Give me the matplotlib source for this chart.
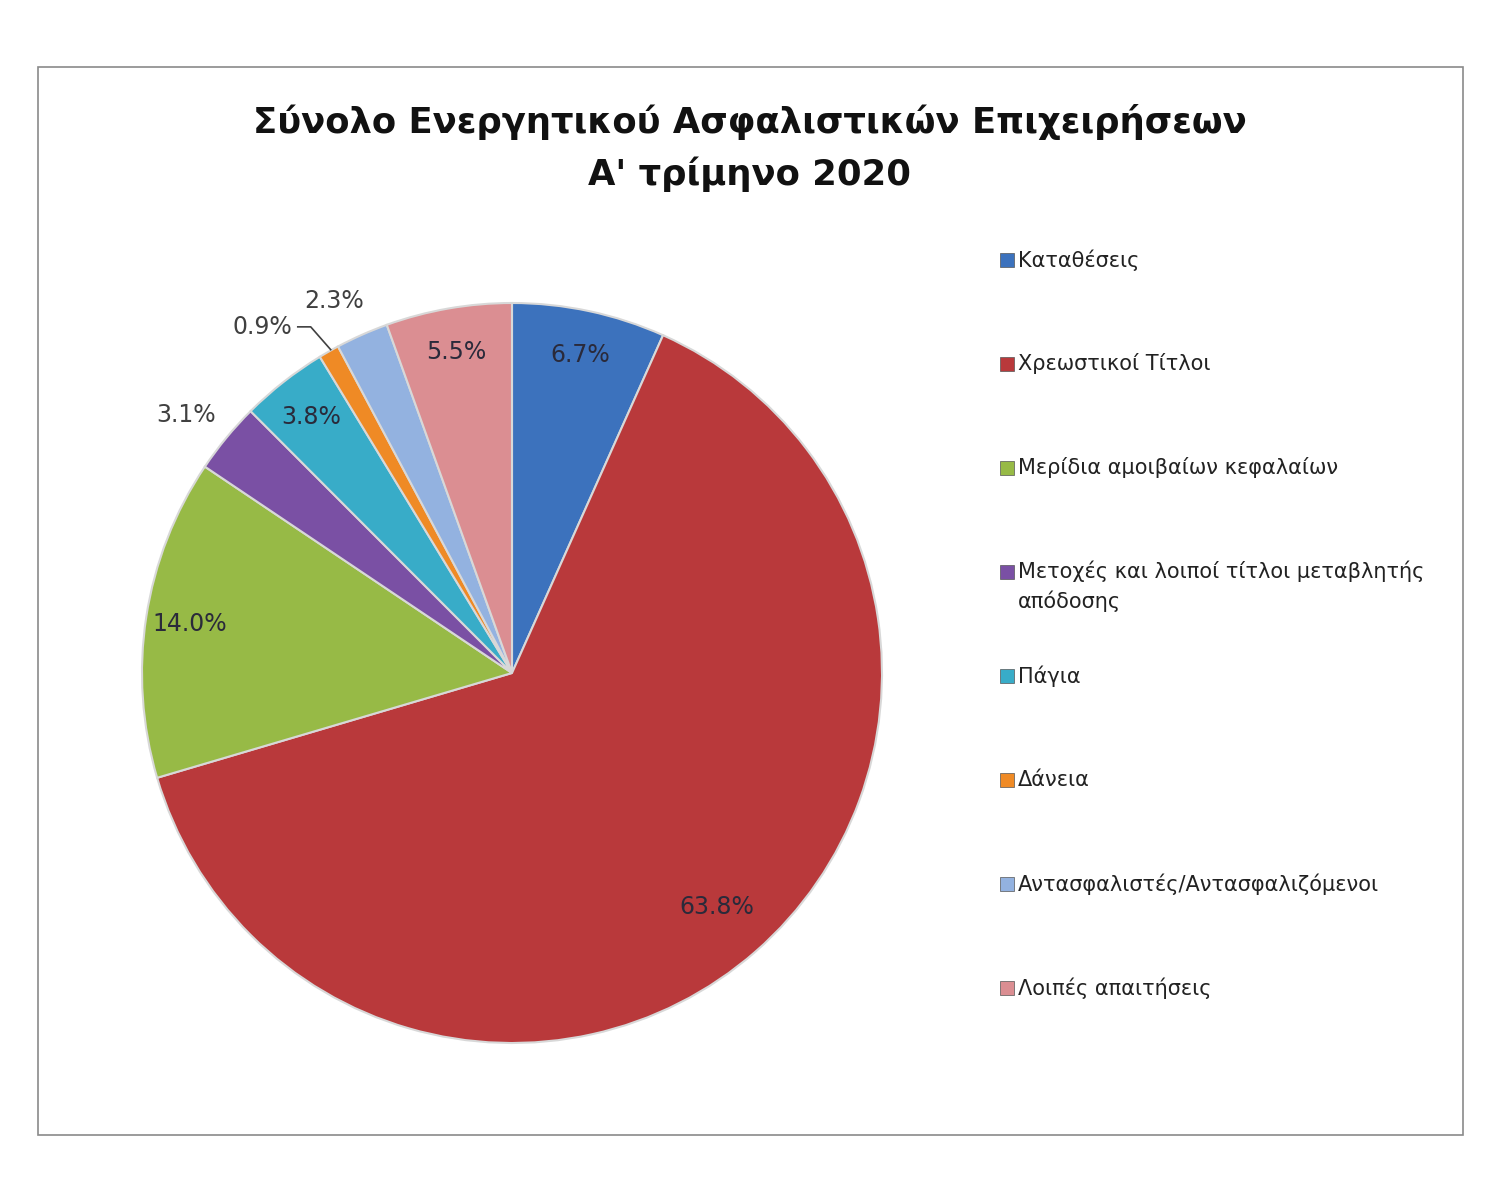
import numpy as np
import matplotlib.pyplot as plt
from matplotlib.patches import Rectangle

title = "Σύνολο Ενεργητικού Ασφαλιστικών Επιχειρήσεων\nΑ' τρίμηνο 2020"
categories = ["Καταθέσεις", "Χρεωστικοί Τίτλοι", "Μερίδια αμοιβαίων κεφαλαίων",
              "Μετοχές και λοιποί τίτλοι μεταβλητής\nαπόδοσης", "Πάγια", "Δάνεια",
              "Αντασφαλιστές/Αντασφαλιζόμενοι", "Λοιπές απαιτήσεις"]
shares = [6.7, 63.8, 14.0, 3.1, 3.8, 0.9, 2.3, 5.5]
colors = ["#3C72BD", "#B9393B", "#97BA46", "#7A50A4", "#38ACC8", "#EF8A25",
          "#93B2E0", "#DB8E92"]

#+++++ layout
W, H = 1500, 1200
cx, cy, R = 512, 673, 370
fig = plt.figure(figsize=(15, 12), dpi=100)
fig.patch.set_facecolor("white")
fig.add_artist(Rectangle((38 / W, 1 - 1135 / H), (1463 - 38) / W, (1135 - 67) / H,
                         transform=fig.transFigure, fill=False, ec="#8a8a8a", lw=1.2))
ax = fig.add_axes([(cx - R) / W, (H - cy - R) / H, 2 * R / W, 2 * R / H])
#-----

wedges, _ = ax.pie(shares, colors=colors, startangle=90, counterclock=False, radius=1,
                   wedgeprops=dict(ec="#d8d8d8", lw=1.5))
ax.set_xlim(-1, 1)
ax.set_ylim(-1, 1)
ax.set_aspect("equal")
ax.axis("off")

# percentage labels: small slices go outside (radius, angle shift in deg)
outside = {3: (1.125, 1.1), 5: (1.153, 6.1), 6: (1.115, 1.7)}
for i, (w, v) in enumerate(zip(wedges, shares)):
    ang = np.deg2rad((w.theta1 + w.theta2) / 2)
    if i in outside:
        r, dang = outside[i]
        a = ang + np.deg2rad(dang)
        x, y = r * np.cos(a), r * np.sin(a)
        ax.text(x, y, f"{v:.1f}%", ha="center", va="center", fontsize=17, color="#404040")
        if i == 5:
            px, py = np.cos(ang), np.sin(ang)
            ax.plot([x + 0.095, x + 0.13, px + 0.005], [y, y, py + 0.005],
                    color="#404040", lw=1.2, clip_on=False)
    else:
        r = 0.88 if i != 1 else 0.84
        ax.text(r * np.cos(ang), r * np.sin(ang), f"{v:.1f}%", ha="center", va="center",
                fontsize=17, color="#2a2a3a")

fig.text(750 / W, 1 - 148 / H, title, ha="center", va="center", fontsize=25.5,
         fontweight="bold", color="#111111", linespacing=1.6)

# legend
for i, (lab, c) in enumerate(zip(categories, colors)):
    y = 260 + 104 * i
    fig.add_artist(Rectangle((1000 / W, 1 - (y + 7) / H), 14 / W, 14 / H,
                             transform=fig.transFigure, fc=c, ec="#555555", lw=0.5))
    if "\n" in lab:
        fig.text(1018 / W, 1 - (y - 12) / H, lab, ha="left", va="top",
                 fontsize=15, color="#222222", linespacing=1.5)
    else:
        fig.text(1018 / W, 1 - y / H, lab, ha="left", va="center",
                 fontsize=15, color="#222222")

fig.savefig("out.png", dpi=100, facecolor="white")
